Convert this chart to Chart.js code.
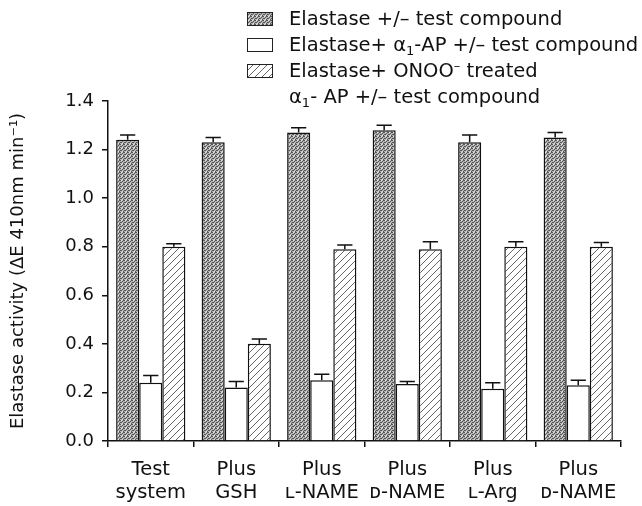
<!DOCTYPE html>
<html>
<head>
<meta charset="utf-8">
<script src="https://cdn.jsdelivr.net/npm/chart.js@4"></script>
<style>
  html, body { margin: 0; padding: 0; background: #fff; }
  #wrap { position: relative; width: 642px; height: 506px; }
  #chart { position: absolute; left: 0; top: 0; }
  .legend { position: absolute; left: 247px; top: 6px; font-family: "DejaVu Sans", sans-serif; font-size: 19.5px; color: #111; }
  .row { height: 26px; line-height: 26px; white-space: nowrap; position: relative; padding-left: 42px; }
  .row canvas { position: absolute; left: 0; top: 6px; }
  sub { font-size: 13px; vertical-align: -4px; line-height: 0; }
  sup { font-size: 13px; vertical-align: 7px; line-height: 0; }
</style>
</head>
<body>
<div id="wrap">
  <canvas id="chart" width="642" height="506"></canvas>
  <div class="legend">
    <div class="row"><canvas id="sw0" width="26" height="14"></canvas>Elastase +/– test compound</div>
    <div class="row"><canvas id="sw1" width="26" height="14"></canvas>Elastase+ α<sub>1</sub>-AP +/– test compound</div>
    <div class="row"><canvas id="sw2" width="26" height="14"></canvas>Elastase+ ONOO<sup>–</sup> treated</div>
    <div class="row">α<sub>1</sub>- AP +/– test compound</div>
  </div>
</div>
<script>
// data
const categories = [['Test', 'system'], ['Plus', 'GSH'], ['Plus', 'ʟ-NAME'], ['Plus', 'ᴅ-NAME'], ['Plus', 'ʟ-Arg'], ['Plus', 'ᴅ-NAME']];
const elastase = [1.24, 1.23, 1.27, 1.28, 1.23, 1.25];
const elastaseErr = [0.02, 0.02, 0.02, 0.02, 0.03, 0.02];
const withAP = [0.24, 0.22, 0.25, 0.235, 0.215, 0.23];
const withAPErr = [0.03, 0.025, 0.025, 0.01, 0.025, 0.02];
const onooTreated = [0.80, 0.40, 0.79, 0.79, 0.80, 0.80];
const onooTreatedErr = [0.012, 0.02, 0.017, 0.03, 0.02, 0.017];
const yTicksMajor = ['0.0', '0.2', '0.4', '0.6', '0.8', '1.0', '1.2', '1.4'];

const FONT = '"DejaVu Sans", sans-serif';

// stippled grey fill
function stipplePattern() {
    const c = document.createElement('canvas');
    c.width = 4; c.height = 4;
    const g = c.getContext('2d');
    g.fillStyle = '#b4b4b4';
    g.fillRect(0, 0, 4, 4);
    g.fillStyle = '#555';
    [[0, 0], [2, 1], [1, 2], [3, 3], [3, 0], [0, 2]].forEach(p => g.fillRect(p[0], p[1], 1, 1));
    g.fillStyle = '#e4e4e4';
    [[1, 0], [2, 3]].forEach(p => g.fillRect(p[0], p[1], 1, 1));
    return g.createPattern(c, 'repeat');
}

// diagonal hatch fill
function hatchPattern() {
    const c = document.createElement('canvas');
    c.width = 7; c.height = 7;
    const g = c.getContext('2d');
    g.fillStyle = '#fff';
    g.fillRect(0, 0, 7, 7);
    g.strokeStyle = '#555';
    g.lineWidth = 0.9;
    g.beginPath();
    g.moveTo(-1, 8); g.lineTo(8, -1);
    g.moveTo(-1, 1); g.lineTo(1, -1);
    g.moveTo(6, 8); g.lineTo(8, 6);
    g.stroke();
    return g.createPattern(c, 'repeat');
}

const fills = [stipplePattern(), '#fff', hatchPattern()];

// legend swatches
fills.forEach((f, i) => {
    const g = document.getElementById('sw' + i).getContext('2d');
    g.fillStyle = f;
    g.fillRect(0, 0, 26, 14);
    g.strokeStyle = '#222';
    g.lineWidth = 1;
    g.strokeRect(0.5, 0.5, 25, 13);
});

// error bars (upper only) drawn through the y scale
const errorBars = {
    id: 'errorBars',
    afterDatasetsDraw(chart) {
        const ctx = chart.ctx;
        const y = chart.scales.y;
        ctx.save();
        ctx.strokeStyle = '#111';
        ctx.lineWidth = 1.5;
        chart.data.datasets.forEach((ds, di) => {
            const meta = chart.getDatasetMeta(di);
            meta.data.forEach((bar, i) => {
                const top = y.getPixelForValue(ds.data[i] + ds.errors[i]);
                const half = bar.width * 0.33;
                ctx.beginPath();
                ctx.moveTo(bar.x, bar.y);
                ctx.lineTo(bar.x, top);
                ctx.moveTo(bar.x - half, top);
                ctx.lineTo(bar.x + half, top);
                ctx.stroke();
            });
        });
        ctx.restore();
    }
};

const seriesNames = ['Elastase +/– test compound', 'Elastase+ α1-AP +/– test compound', 'Elastase+ ONOO– treated α1- AP +/– test compound'];
const seriesValues = [elastase, withAP, onooTreated];
const seriesErrors = [elastaseErr, withAPErr, onooTreatedErr];

new Chart(document.getElementById('chart'), {
    type: 'bar',
    data: {
        labels: categories,
        datasets: seriesValues.map((vals, i) => ({
            label: seriesNames[i],
            data: vals,
            errors: seriesErrors[i],
            backgroundColor: fills[i],
            borderColor: '#111',
            borderWidth: 1.5,
            categoryPercentage: 0.81,
            barPercentage: 1.0
        }))
    },
    options: {
        responsive: false,
        animation: false,
        devicePixelRatio: 1,
        layout: { padding: { top: 101, right: 21, left: 0, bottom: 0 } },
        plugins: { legend: { display: false }, tooltip: { enabled: false } },
        scales: {
            x: {
                grid: { display: true, offset: true, drawOnChartArea: false, color: '#111', lineWidth: 1.5, tickLength: 6 },
                border: { display: true, color: '#111', width: 1.5 },
                ticks: { color: '#111', padding: 11, font: { family: FONT, size: 19.5, lineHeight: 1.2 }, maxRotation: 0, autoSkip: false },
                afterFit: s => { s.height = 65; }
            },
            y: {
                min: 0,
                max: 1.4,
                grid: { display: true, drawOnChartArea: false, color: '#111', lineWidth: 1.5, tickLength: 6 },
                border: { display: true, color: '#111', width: 1.5 },
                ticks: {
                    stepSize: 0.1,
                    color: '#111',
                    padding: 8,
                    font: { family: FONT, size: 18 },
                    callback: (v, i) => (i % 2 === 0 ? yTicksMajor[i / 2] : '')
                },
                title: {
                    display: true,
                    text: 'Elastase activity (ΔE 410nm min⁻¹)',
                    color: '#111',
                    font: { family: FONT, size: 18 },
                    padding: { top: 8, bottom: 0 }
                },
                afterFit: s => { s.width = 108; }
            }
        }
    },
    plugins: [errorBars]
});
</script>
</body>
</html>
